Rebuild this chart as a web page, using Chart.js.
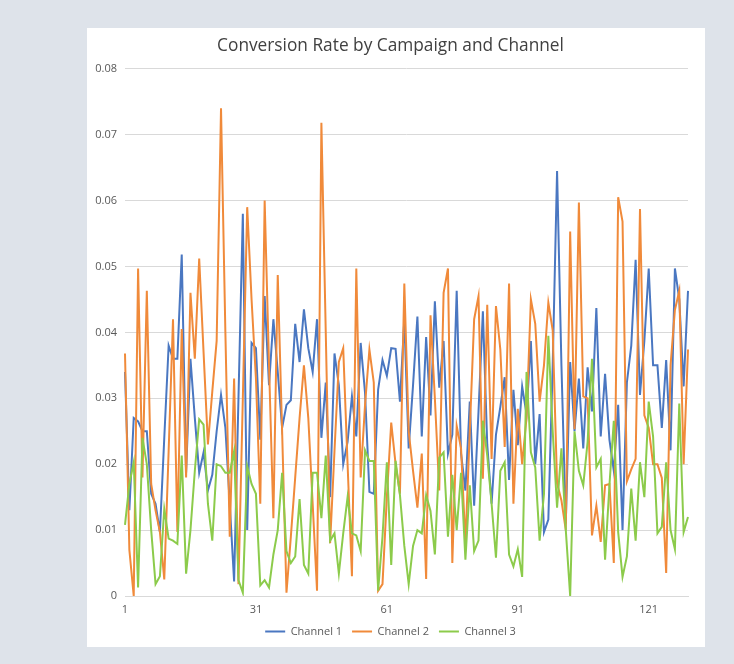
<!DOCTYPE html>
<html>
<head>
<meta charset="utf-8">
<script src="https://cdn.jsdelivr.net/npm/chart.js@4.4.1/dist/chart.umd.min.js"></script>
<style>
  html, body { margin: 0; padding: 0; background: #dee3ea; }
  body { width: 734px; height: 664px; position: relative; overflow: hidden; }
  #panel { position: absolute; left: 87px; top: 28px; width: 618px; height: 619px; background: #ffffff; }
  #chart { position: absolute; left: 0; top: 0; }
</style>
</head>
<body>
<div id="panel"><canvas id="chart" width="618" height="619"></canvas></div>
<script>
// Conversion rate per campaign (1..130) for each channel
const channel1 = [
  0.034, 0.013, 0.027, 0.0265, 0.025, 0.025, 0.0155, 0.014, 0.0097, 0.024,
  0.038, 0.036, 0.036, 0.0518, 0.0187, 0.036, 0.027, 0.0187, 0.0218, 0.016,
  0.0184, 0.025, 0.0305, 0.0255, 0.014, 0.0022, 0.03, 0.058, 0.010, 0.0384,
  0.0376, 0.0237, 0.0455, 0.032, 0.042, 0.034, 0.0255, 0.029, 0.0297, 0.0413,
  0.0355, 0.0435, 0.0376, 0.034, 0.042, 0.024, 0.0324, 0.015, 0.0368, 0.032,
  0.020, 0.0234, 0.0303, 0.0242, 0.0384, 0.0308, 0.0158, 0.0155, 0.0313, 0.0358,
  0.0334, 0.0376, 0.0375, 0.0295, 0.042, 0.0224, 0.032, 0.0424, 0.0242, 0.0393,
  0.0274, 0.0447, 0.0316, 0.0387, 0.0216, 0.0245, 0.0463, 0.0216, 0.016, 0.0295,
  0.0137, 0.028, 0.0432, 0.023, 0.014, 0.0245, 0.0287, 0.0332, 0.0176, 0.0313,
  0.0229, 0.0318, 0.0276, 0.0387, 0.020, 0.0276, 0.0097, 0.0116, 0.035, 0.0645,
  0.035, 0.011, 0.0355, 0.025, 0.033, 0.0224, 0.0347, 0.028, 0.0437, 0.0242,
  0.0337, 0.0237, 0.019, 0.029, 0.010, 0.0324, 0.038, 0.051, 0.0305, 0.0387,
  0.0497, 0.035, 0.035, 0.0255, 0.0358, 0.0221, 0.0497, 0.045, 0.0318, 0.0463
];
const channel2 = [
  0.0368, 0.007, 0.0, 0.0497, 0.018, 0.0463, 0.017, 0.013, 0.0097, 0.0025,
  0.022, 0.042, 0.0097, 0.0405, 0.018, 0.046, 0.036, 0.0512, 0.037, 0.023,
  0.031, 0.0387, 0.074, 0.040, 0.009, 0.033, 0.0018, 0.030, 0.059, 0.045,
  0.033, 0.014, 0.060, 0.035, 0.0118, 0.0487, 0.025, 0.0005, 0.009, 0.018,
  0.027, 0.035, 0.027, 0.014, 0.0008, 0.0718, 0.040, 0.008, 0.022, 0.0355,
  0.0376, 0.020, 0.003, 0.0497, 0.018, 0.029, 0.0374, 0.0324, 0.0008, 0.0018,
  0.015, 0.0263, 0.020, 0.0155, 0.0474, 0.025, 0.019, 0.0134, 0.0216, 0.0026,
  0.0426, 0.030, 0.016, 0.046, 0.0497, 0.005, 0.0258, 0.0224, 0.008, 0.025,
  0.042, 0.0455, 0.0178, 0.0442, 0.0208, 0.044, 0.0374, 0.0226, 0.0474, 0.014,
  0.0284, 0.020, 0.027, 0.045, 0.0413, 0.0295, 0.035, 0.0445, 0.0403, 0.0171,
  0.0145, 0.010, 0.0553, 0.0253, 0.0597, 0.0303, 0.030, 0.0092, 0.0137, 0.0082,
  0.0168, 0.017, 0.005, 0.0605, 0.0568, 0.0174, 0.0192, 0.0208, 0.0587, 0.0274,
  0.0255, 0.020, 0.020, 0.0179, 0.0035, 0.035, 0.0434, 0.0463, 0.020, 0.0374
];
const channel3 = [
  0.0108, 0.017, 0.0203, 0.0013, 0.024, 0.020, 0.010, 0.0018, 0.003, 0.0132,
  0.0087, 0.0084, 0.0079, 0.0213, 0.0034, 0.010, 0.019, 0.0268, 0.026, 0.014,
  0.0084, 0.020, 0.0197, 0.0187, 0.0187, 0.022, 0.0024, 0.0005, 0.0197, 0.017,
  0.0155, 0.0016, 0.0024, 0.0013, 0.0063, 0.010, 0.0187, 0.0068, 0.005, 0.006,
  0.0147, 0.0047, 0.0034, 0.0187, 0.0187, 0.0118, 0.0213, 0.0084, 0.0095, 0.0034,
  0.0095, 0.015, 0.0095, 0.0092, 0.0068, 0.0221, 0.0205, 0.0205, 0.0008, 0.009,
  0.0203, 0.0047, 0.0205, 0.0153, 0.0076, 0.0018, 0.0076, 0.010, 0.0095, 0.0153,
  0.0129, 0.0063, 0.021, 0.0218, 0.009, 0.0184, 0.010, 0.0187, 0.0055, 0.0168,
  0.0068, 0.0084, 0.0266, 0.0213, 0.014, 0.0058, 0.019, 0.0203, 0.0063, 0.0045,
  0.0071, 0.0029, 0.034, 0.0218, 0.0195, 0.0084, 0.0155, 0.0395, 0.025, 0.0134,
  0.0224, 0.010, 0.0, 0.025, 0.019, 0.0168, 0.0234, 0.036, 0.0195, 0.0208,
  0.0055, 0.0168, 0.0266, 0.0097, 0.0029, 0.006, 0.0163, 0.0084, 0.0203, 0.015,
  0.0295, 0.0242, 0.0095, 0.0105, 0.0203, 0.010, 0.0071, 0.0292, 0.0097, 0.012
];
const campaigns = channel1.map((_, i) => String(i + 1));
const xTickLabels = ['1', '31', '61', '91', '121'];
const yTickValues = [0, 0.01, 0.02, 0.03, 0.04, 0.05, 0.06, 0.07, 0.08];
const seriesNames = ['Channel 1', 'Channel 2', 'Channel 3'];
const seriesColors = ['#4a77c1', '#f08a3a', '#8ccb4b'];

const tickFont = { family: 'Open Sans, Noto Sans, sans-serif', size: 11 };

function lineSet(label, data, color, order) {
  return {
    label, data, order,
    borderColor: color, backgroundColor: color,
    borderWidth: 2, pointRadius: 0, pointHoverRadius: 0,
    pointStyle: 'line', tension: 0, fill: false
  };
}

new Chart(document.getElementById('chart'), {
  type: 'line',
  data: {
    labels: campaigns,
    datasets: [
      lineSet(seriesNames[0], channel1, seriesColors[0], 2),
      lineSet(seriesNames[1], channel2, seriesColors[1], 1),
      lineSet(seriesNames[2], channel3, seriesColors[2], 0)
    ]
  },
  options: {
    responsive: false,
    animation: false,
    layout: { padding: { left: 6, right: 17, top: 0, bottom: 0 } },
    plugins: {
      title: {
        display: true,
        text: 'Conversion Rate by Campaign and Channel',
        color: '#404040',
        font: { family: 'Open Sans, Noto Sans, sans-serif', size: 17.3, weight: 'normal' },
        padding: { top: 8, bottom: 12 }
      },
      legend: {
        position: 'bottom',
        labels: {
          sort: (a, b) => a.datasetIndex - b.datasetIndex,
          usePointStyle: true,
          pointStyleWidth: 20,
          boxHeight: 8,
          color: '#595959',
          font: tickFont,
          padding: 10
        }
      },
      tooltip: { enabled: false }
    },
    scales: {
      x: {
        type: 'category',
        offset: false,
        grid: { display: false, drawTicks: false },
        border: { display: true, color: '#d9d9d9' },
        ticks: {
          autoSkip: false,
          maxRotation: 0,
          padding: 7,
          color: '#595959',
          font: tickFont,
          callback: function (value) {
            const lab = this.getLabelForValue(value);
            return xTickLabels.includes(lab) ? lab : null;
          }
        },
        afterFit: (scale) => { scale.height = 20; }
      },
      y: {
        min: 0, max: 0.08,
        afterBuildTicks: (scale) => { scale.ticks = yTickValues.map(v => ({ value: v })); },
        grid: { color: '#d9d9d9', drawTicks: false },
        border: { display: false },
        ticks: {
          padding: 8,
          color: '#595959',
          font: tickFont,
          callback: (v) => (v === 0 ? '0' : v.toFixed(2))
        },
        afterFit: (scale) => { scale.width = 32; }
      }
    }
  }
});
</script>
</body>
</html>
